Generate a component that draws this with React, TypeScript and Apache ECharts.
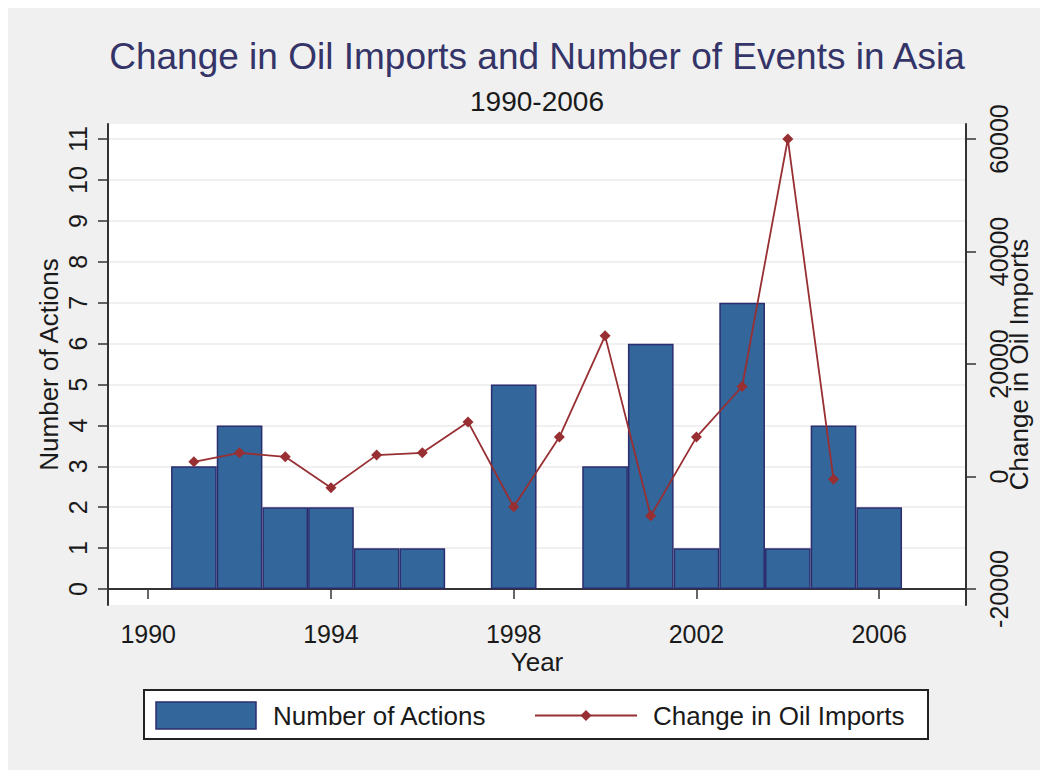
import React, { useEffect, useRef } from "react";
import * as echarts from "echarts";

const years = [1991, 1992, 1993, 1994, 1995, 1996, 1997, 1998, 1999, 2000, 2001, 2002, 2003, 2004, 2005, 2006];
const numberOfActions = [3, 4, 2, 2, 1, 1, null, 5, null, 3, 6, 1, 7, 1, 4, 2];
const oilYears = [1991, 1992, 1993, 1994, 1995, 1996, 1997, 1998, 1999, 2000, 2001, 2002, 2003, 2004, 2005];
const oilChange = [2600, 4200, 3500, -2000, 3800, 4200, 9700, -5400, 7000, 25000, -7000, 7000, 16000, 60000, -500];
const xTicks = [1990, 1994, 1998, 2002, 2006];
const leftTicks = [0, 1, 2, 3, 4, 5, 6, 7, 8, 9, 10, 11];
const rightTicks = [-20000, 0, 20000, 40000, 60000];

const FONT = "'Liberation Sans', Arial, sans-serif";
const BAR_FILL = "#33669a";
const BAR_EDGE = "#2b2d6e";
const LINE_COLOR = "#982f33";
const AXIS_COLOR = "#333333";
const TEXT_COLOR = "#1a1a1a";

export default function App() {
  const ref = useRef<HTMLDivElement>(null);
  useEffect(() => {
    if (!ref.current) return;
    const chart = echarts.init(ref.current, undefined, { renderer: "svg" });
    const barData = years.map((y, i) => [y, numberOfActions[i]]);
    const lineData = oilYears.map((y, i) => [y, oilChange[i]]);
    const gx = 100, gy = 116, gw = 858, gh = 481;
    const legY = 707.5;
    chart.setOption({
      animation: false,
      backgroundColor: "#f0f0f0",
      textStyle: { fontFamily: FONT },
      grid: {
        left: gx, top: gy, width: gw, height: gh,
        show: true, backgroundColor: "#ffffff", borderWidth: 0,
      },
      xAxis: {
        type: "value",
        min: 1989.12,
        max: 2007.9,
        name: "Year",
        nameLocation: "middle",
        nameGap: 44,
        nameMoveOverlap: false,
        nameTextStyle: { fontSize: 26, color: TEXT_COLOR, fontFamily: FONT },
        axisLine: { show: true, lineStyle: { color: AXIS_COLOR, width: 2 } },
        axisTick: { show: true, length: 10, customValues: xTicks, lineStyle: { color: AXIS_COLOR, width: 1.5 } },
        axisLabel: { customValues: xTicks, fontSize: 25, color: TEXT_COLOR, margin: 16, fontFamily: FONT, formatter: (v: number) => String(v) },
        splitLine: { show: false },
      },
      yAxis: [
        {
          type: "value",
          position: "left",
          min: -0.39,
          max: 11.37,
          name: "Number of Actions",
          nameLocation: "middle",
          nameGap: 46,
          nameMoveOverlap: false,
          nameTextStyle: { fontSize: 26, color: TEXT_COLOR, fontFamily: FONT },
          axisLine: { show: true, lineStyle: { color: AXIS_COLOR, width: 2 } },
          axisTick: { show: true, length: 10, customValues: leftTicks, lineStyle: { color: AXIS_COLOR, width: 1.5 } },
          axisLabel: { customValues: leftTicks, rotate: 90, fontSize: 25, color: TEXT_COLOR, margin: 18, fontFamily: FONT, formatter: (v: number) => String(v) },
          splitLine: { show: true, lineStyle: { color: "#ebebeb", width: 1.5 } },
        },
        {
          type: "value",
          position: "right",
          min: -22850,
          max: 62670,
          name: "Change in Oil Imports",
          nameLocation: "middle",
          nameGap: 40,
          nameMoveOverlap: false,
          nameTextStyle: { fontSize: 26, color: TEXT_COLOR, fontFamily: FONT },
          axisLine: { show: true, lineStyle: { color: AXIS_COLOR, width: 2 } },
          axisTick: { show: true, length: 10, customValues: rightTicks, lineStyle: { color: AXIS_COLOR, width: 1.5 } },
          axisLabel: { customValues: rightTicks, rotate: 90, fontSize: 25, color: TEXT_COLOR, margin: 20, fontFamily: FONT, formatter: (v: number) => String(v) },
          splitLine: { show: false },
        },
      ],
      series: [
        {
          name: "Number of Actions",
          type: "bar",
          xAxisIndex: 0,
          yAxisIndex: 0,
          barWidth: "100%",
          data: barData,
          itemStyle: { color: BAR_FILL, borderColor: BAR_EDGE, borderWidth: 1.5 },
          z: 2,
        },
        {
          name: "Change in Oil Imports",
          type: "line",
          xAxisIndex: 0,
          yAxisIndex: 1,
          data: lineData,
          symbol: "diamond",
          symbolSize: 11,
          showAllSymbol: true,
          lineStyle: { color: LINE_COLOR, width: 1.8 },
          itemStyle: { color: LINE_COLOR },
          z: 3,
        },
      ],
      graphic: [
        {
          type: "text",
          x: 529, y: 48,
          style: { text: "Change in Oil Imports and Number of Events in Asia", fill: "#343468", font: `37px ${FONT}`, textAlign: "center", textVerticalAlign: "middle" },
        },
        {
          type: "text",
          x: 529, y: 93,
          style: { text: "1990-2006", fill: "#1a1a1a", font: `28px ${FONT}`, textAlign: "center", textVerticalAlign: "middle" },
        },
        {
          type: "rect",
          shape: { x: 136, y: 682, width: 784, height: 49 },
          style: { fill: "#ffffff", stroke: "#222222", lineWidth: 2 },
        },
        {
          type: "rect",
          shape: { x: 148, y: 694, width: 100, height: 27 },
          style: { fill: BAR_FILL, stroke: BAR_EDGE, lineWidth: 1.5 },
        },
        {
          type: "text",
          x: 265, y: legY,
          style: { text: "Number of Actions", fill: TEXT_COLOR, font: `26px ${FONT}`, textAlign: "left", textVerticalAlign: "middle" },
        },
        {
          type: "line",
          shape: { x1: 527, y1: legY, x2: 629, y2: legY },
          style: { stroke: LINE_COLOR, lineWidth: 1.8 },
        },
        {
          type: "polygon",
          shape: { points: [[578, legY - 5.5], [583.5, legY], [578, legY + 5.5], [572.5, legY]] },
          style: { fill: LINE_COLOR },
        },
        {
          type: "text",
          x: 645, y: legY,
          style: { text: "Change in Oil Imports", fill: TEXT_COLOR, font: `26px ${FONT}`, textAlign: "left", textVerticalAlign: "middle" },
        },
      ],
    });
    return () => chart.dispose();
  }, []);
  return <div ref={ref} style={{ width: 1040, height: 762 }} />;
}
